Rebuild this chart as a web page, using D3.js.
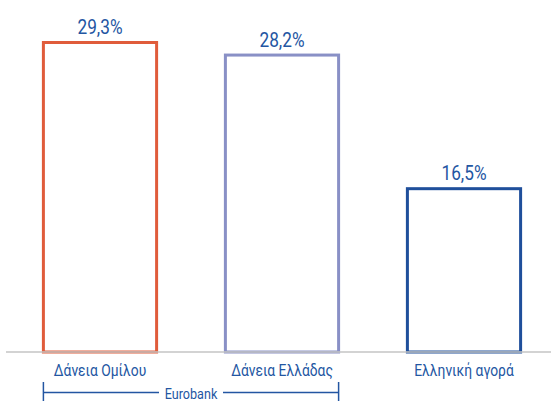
<!DOCTYPE html>
<html><head><meta charset="utf-8">
<script src="https://cdn.jsdelivr.net/npm/d3@7"></script>
<style>html,body{margin:0;padding:0;background:#fff;} svg{display:block;}</style>
</head><body>
<svg id="chart" width="551" height="401"></svg>
<script>
const categories = ["Δάνεια Ομίλου", "Δάνεια Ελλάδας", "Ελληνική αγορά"];
const values = [29.3, 28.2, 16.5];
const valueLabels = ["29,3%", "28,2%", "16,5%"];
const colors = ["#e05c3b", "#8990c6", "#1f4f9b"];
const groupLabel = "Eurobank";
const groupMembers = ["Δάνεια Ομίλου", "Δάνεια Ελλάδας"];

const svg = d3.select("#chart");
const font = "Roboto, 'Liberation Sans', sans-serif";
const textColor = "#2356a2";
const squeeze = 0.84;

const x = d3.scaleBand().domain(categories).range([9, 555]).paddingInner(0.378).paddingOuter(0.189);
const y = d3.scaleLinear().domain([2.2, 29.3]).range([352, 42.5]);

// bars
svg.selectAll("rect.bar").data(values).join("rect")
  .attr("class", "bar")
  .attr("x", (d, i) => x(categories[i]))
  .attr("y", d => y(d))
  .attr("width", x.bandwidth())
  .attr("height", d => y.range()[0] - y(d))
  .attr("fill", "none")
  .attr("stroke", (d, i) => colors[i])
  .attr("stroke-width", 3);

// baseline axis
const xAxis = d3.axisBottom(x).tickSize(0).tickFormat("");
const gx = svg.append("g").attr("transform", "translate(0,352)").call(xAxis);
gx.select(".domain").attr("d", "M6,0H551").attr("stroke", "#c4c4c4").attr("stroke-width", 1.5);

function condensed(sel, fx, fy, size) {
  sel.attr("transform", (d, i) => `translate(${fx(d, i)},${fy(d, i)}) scale(${squeeze},1)`)
    .attr("text-anchor", "middle")
    .attr("font-family", font).attr("font-size", size)
    .attr("fill", textColor);
}

// category labels
svg.selectAll("text.cat").data(categories).join("text")
  .attr("class", "cat")
  .call(condensed, d => x(d) + x.bandwidth() / 2, () => 376, 16.5)
  .text(d => d);

// value labels
svg.selectAll("text.val").data(values).join("text")
  .attr("class", "val")
  .call(condensed, (d, i) => x(categories[i]) + x.bandwidth() / 2, d => y(d) - 8.5, 20.5)
  .text((d, i) => valueLabels[i]);

// group bracket
const gx0 = x(groupMembers[0]);
const gx1 = x(groupMembers[1]) + x.bandwidth();
const gmid = (gx0 + gx1) / 2;
const by = 392.5;
const br = svg.append("g").attr("stroke", textColor).attr("stroke-width", 1.5).attr("fill", "none");
br.append("line").attr("x1", gx0).attr("x2", gx0).attr("y1", 382).attr("y2", 402);
br.append("line").attr("x1", gx1).attr("x2", gx1).attr("y1", 382).attr("y2", 402);
br.append("line").attr("x1", gx0).attr("x2", gmid - 32).attr("y1", by).attr("y2", by);
br.append("line").attr("x1", gmid + 32).attr("x2", gx1).attr("y1", by).attr("y2", by);
svg.append("text").datum(groupLabel)
  .call(condensed, () => gmid, () => 398.5, 15)
  .text(d => d);
</script>
</body></html>
